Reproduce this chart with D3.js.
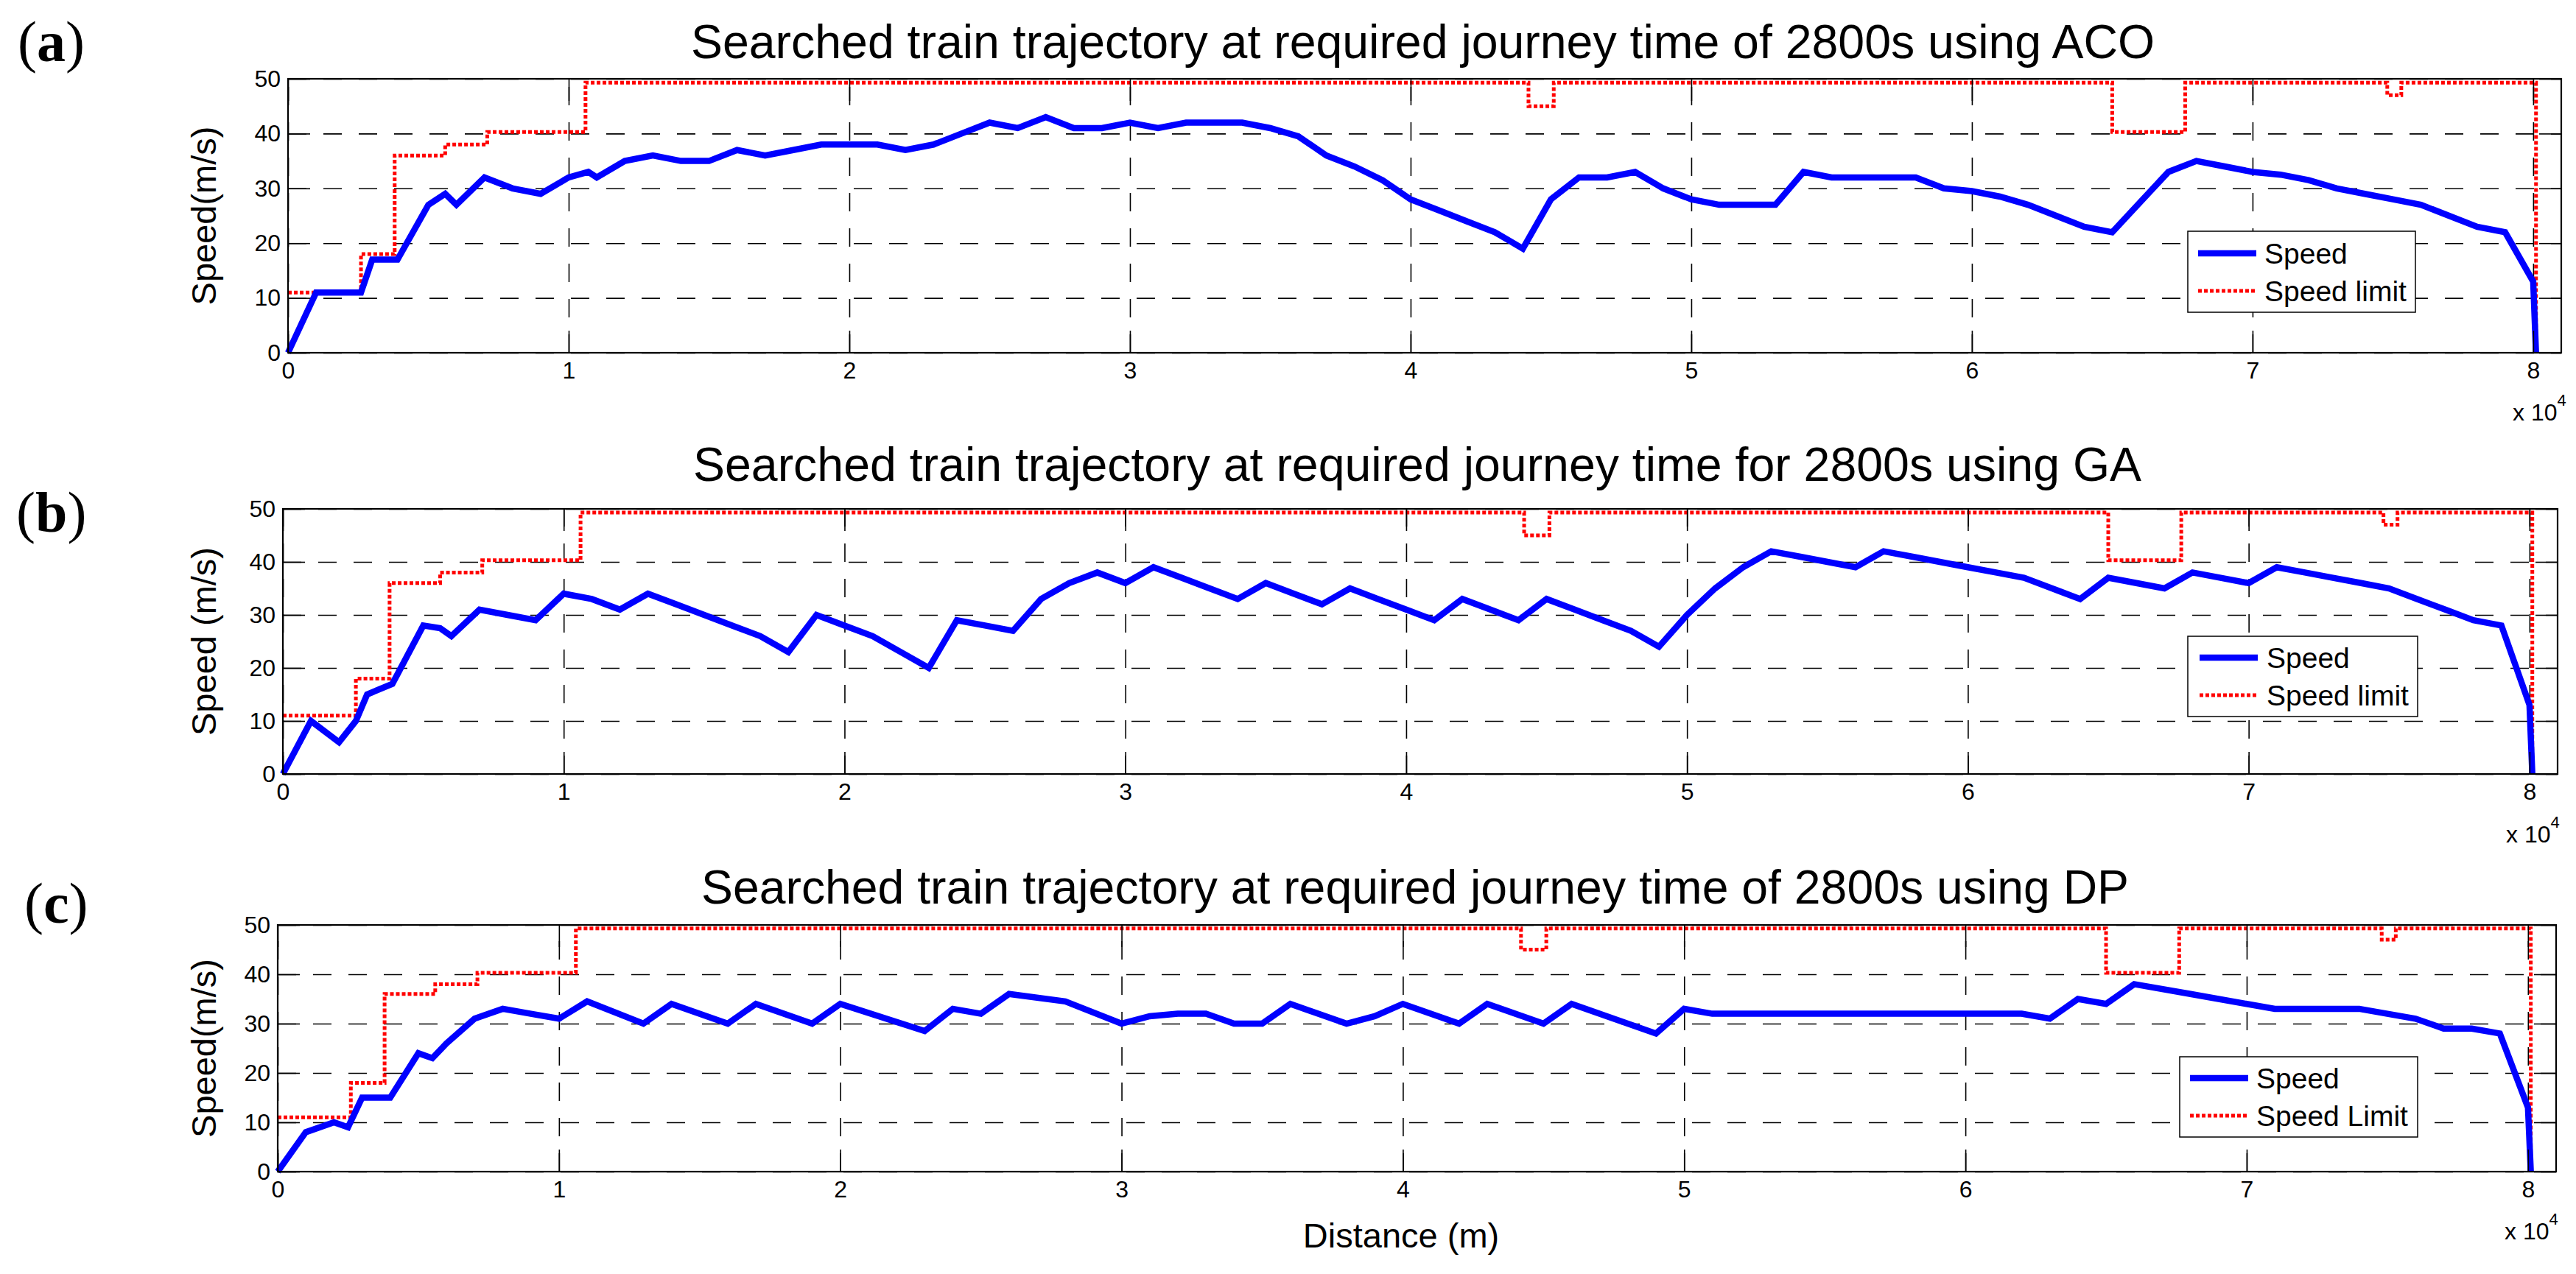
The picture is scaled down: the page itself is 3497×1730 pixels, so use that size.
<!DOCTYPE html>
<html>
<head>
<meta charset="utf-8">
<script src="https://cdn.jsdelivr.net/npm/d3@7"></script>
<style>
  html, body { margin: 0; padding: 0; background: #ffffff; }
  svg { display: block; }
  text { font-family: "Liberation Sans", Arial, Helvetica, sans-serif; fill: #000; }
</style>
</head>
<body>
<svg id="chart" width="3497" height="1730"></svg>
<script>
// ---------------- DATA ----------------
const xTicks = [0, 10000, 20000, 30000, 40000, 50000, 60000, 70000, 80000];
const xTickLabels = ["0", "1", "2", "3", "4", "5", "6", "7", "8"];
const yTicks = [0, 10, 20, 30, 40, 50];
const yTickLabels = ["0", "10", "20", "30", "40", "50"];

const panelLabels = ["a", "b", "c"];
const titles = [
  "Searched train trajectory at required journey time of 2800s using ACO",
  "Searched train trajectory at required journey time for 2800s using GA",
  "Searched train trajectory at required journey time of 2800s using DP"
];
const yLabels = ["Speed(m/s)", "Speed (m/s)", "Speed(m/s)"];
const legendSpeed = ["Speed", "Speed", "Speed"];
const legendLimit = ["Speed limit", "Speed limit", "Speed Limit"];
const xLabel = "Distance (m)";

// speed limit profile (step after each break point)
const limitDist  = [0, 2600, 3800, 5600, 7100, 10600, 44200, 45100, 65000, 67600, 74800, 75300, 80100];
const limitSpeed = [11, 18, 36, 38, 40.3, 49.3, 45, 49.3, 40.3, 49.3, 47, 49.3, 0];

// (a) ACO
const distA = [0, 1000, 2600, 3000, 3900, 5000, 5600, 6000, 7000, 8000,
  9000, 10000, 10700, 11000, 12000, 13000, 14000, 15000, 16000, 17000,
  18000, 19000, 20000, 21000, 22000, 23000, 24000, 25000, 26000, 27000,
  28000, 29000, 30000, 31000, 32000, 34000, 35000, 36000, 37000, 38000,
  39000, 40000, 41000, 42000, 43000, 44000, 45000, 46000, 47000, 48000,
  49000, 50000, 51000, 53000, 54000, 55000, 58000, 59000, 60000, 61000,
  62000, 63000, 64000, 65000, 66000, 67000, 68000, 69000, 70000, 71000,
  72000, 73000, 74000, 75000, 76000, 77000, 78000, 79000, 80000, 80100];
const speedA = [0, 11, 11, 17, 17, 27, 29, 27, 32, 30,
  29, 32, 33, 32, 35, 36, 35, 35, 37, 36,
  37, 38, 38, 38, 37, 38, 40, 42, 41, 43,
  41, 41, 42, 41, 42, 42, 41, 39.5, 36, 34,
  31.5, 28, 26, 24, 22, 19, 28, 32, 32, 33,
  30, 28, 27, 27, 33, 32, 32, 30, 29.5, 28.5,
  27, 25, 23, 22, 27.5, 33, 35, 34, 33, 32.5,
  31.5, 30, 29, 28, 27, 25, 23, 22, 13, 0];

// (b) GA
const distB = [0, 1000, 2000, 2600, 3000, 3900, 5000, 5600, 6000, 7000,
  8000, 9000, 10000, 11000, 12000, 13000, 14000, 15000, 16000, 17000,
  18000, 19000, 20000, 21000, 22000, 23000, 24000, 25000, 26000, 27000,
  28000, 29000, 30000, 31000, 32000, 33000, 34000, 35000, 36000, 37000,
  38000, 39000, 40000, 41000, 42000, 43000, 44000, 45000, 46000, 47000,
  48000, 49000, 50000, 51000, 52000, 53000, 54000, 55000, 56000, 57000,
  58000, 59000, 60000, 61000, 62000, 63000, 64000, 65000, 66000, 67000,
  68000, 69000, 70000, 71000, 72000, 73000, 74000, 75000, 76000, 77000,
  78000, 79000, 80000, 80100];
const speedB = [0, 10, 6, 10, 15, 17, 28, 27.5, 26, 31,
  30, 29, 34, 33, 31, 34, 32, 30, 28, 26,
  23, 30, 28, 26, 23, 20, 29, 28, 27, 33,
  36, 38, 36, 39, 37, 35, 33, 36, 34, 32,
  35, 33, 31, 29, 33, 31, 29, 33, 31, 29,
  27, 24, 30, 35, 39, 42, 41, 40, 39, 42,
  41, 40, 39, 38, 37, 35, 33, 37, 36, 35,
  38, 37, 36, 39, 38, 37, 36, 35, 33, 31,
  29, 28, 13, 0];

// (c) DP
const distC = [0, 1000, 2000, 2500, 3000, 4000, 5000, 5500, 6000, 7000,
  8000, 9000, 10000, 11000, 13000, 14000, 16000, 17000, 19000, 20000,
  23000, 24000, 25000, 26000, 28000, 30000, 31000, 32000, 33000, 34000,
  35000, 36000, 38000, 39000, 40000, 42000, 43000, 45000, 46000, 49000,
  50000, 51000, 62000, 63000, 64000, 65000, 66000, 68000, 70000, 71000,
  74000, 75000, 76000, 77000, 78000, 79000, 80000, 80100];
const speedC = [0, 8, 10, 9, 15, 15, 24, 23, 26, 31,
  33, 32, 31, 34.5, 30, 34, 30, 34, 30, 34,
  28.5, 33, 32, 36, 34.5, 30, 31.5, 32, 32, 30,
  30, 34, 30, 31.5, 34, 30, 34, 30, 34, 28,
  33, 32, 32, 31, 35, 34, 38, 36, 34, 33,
  33, 32, 31, 29, 29, 28, 13, 0];

const distSeries = [distA, distB, distC];
const speedSeries = [speedA, speedB, speedC];

const xDomain = [0, 81000];
const yDomain = [0, 50];

// ---------------- LAYOUT ----------------
const layout = [
  { left: 391, right: 3477, top: 107, bottom: 479,
    lab: { x: 24, y: 83 }, title: { x: 938, y: 79, w: 1987 },
    leg: { x: 2970, y: 314, w: 309, h: 110, r1: 344, r2: 395, lx: 2984, tx: 3074 },
    exp: { x: 3411, y: 571 } },
  { left: 384, right: 3472, top: 691, bottom: 1051,
    lab: { x: 22, y: 722 }, title: { x: 941, y: 653, w: 1966 },
    leg: { x: 2970, y: 864, w: 312, h: 109, r1: 893, r2: 944, lx: 2986, tx: 3077 },
    exp: { x: 3402, y: 1144 } },
  { left: 377, right: 3470, top: 1256, bottom: 1591,
    lab: { x: 33, y: 1253 }, title: { x: 952, y: 1227, w: 1938 },
    leg: { x: 2959, y: 1435, w: 323, h: 109, r1: 1464, r2: 1515, lx: 2973, tx: 3063 },
    exp: { x: 3400, y: 1683 } }
];

const svg = d3.select("#chart");
svg.append("rect").attr("x", 0).attr("y", 0).attr("width", 3497).attr("height", 1730).attr("fill", "#fff");

const BLUE = "#0000ff", RED = "#ff0000";
const TICK_FONT = 32, LEG_FONT = 39, LABEL_FONT = 47, TITLE_FONT = 64;
const TICK_LEN = 30;
const BLUE_W = 8.5, RED_W = 5, RED_DASH = "5,3";

layout.forEach((L, i) => {
  const W = L.right - L.left, H = L.bottom - L.top;
  const x = d3.scaleLinear().domain(xDomain).range([L.left, L.right]);
  const y = d3.scaleLinear().domain(yDomain).range([L.bottom, L.top]);

  const g = svg.append("g");

  // grid
  const gx = g.append("g").attr("transform", `translate(0,${L.bottom})`)
    .call(d3.axisBottom(x).tickValues(xTicks).tickSize(-H).tickFormat(""));
  const gy = g.append("g").attr("transform", `translate(${L.left},0)`)
    .call(d3.axisLeft(y).tickValues(yTicks).tickSize(-W).tickFormat(""));
  [gx, gy].forEach(s => {
    s.select(".domain").remove();
    s.selectAll(".tick line").attr("stroke", "#000").attr("stroke-width", 1.6)
      .attr("stroke-dasharray", "25,23");
  });

  // speed limit
  const limitData = limitDist.map((d, k) => [d, limitSpeed[k]]);
  g.append("path").datum(limitData)
    .attr("fill", "none").attr("stroke", RED).attr("stroke-width", RED_W)
    .attr("stroke-dasharray", RED_DASH)
    .attr("d", d3.line().x(d => x(d[0])).y(d => y(d[1])).curve(d3.curveStepAfter));

  // speed
  const sData = distSeries[i].map((d, k) => [d, speedSeries[i][k]]);
  g.append("path").datum(sData)
    .attr("fill", "none").attr("stroke", BLUE).attr("stroke-width", BLUE_W)
    .attr("stroke-linejoin", "miter").attr("stroke-miterlimit", 2)
    .attr("d", d3.line().x(d => x(d[0])).y(d => y(d[1])));

  // axes with labels (ticks inward)
  const ax = g.append("g").attr("transform", `translate(0,${L.bottom})`)
    .call(d3.axisBottom(x).tickValues(xTicks).tickSizeInner(-TICK_LEN).tickSizeOuter(0)
      .tickPadding(12).tickFormat((d, k) => xTickLabels[k]));
  const ay = g.append("g").attr("transform", `translate(${L.left},0)`)
    .call(d3.axisLeft(y).tickValues(yTicks).tickSizeInner(-TICK_LEN).tickSizeOuter(0)
      .tickPadding(10).tickFormat((d, k) => yTickLabels[k]));
  const axT = g.append("g").attr("transform", `translate(0,${L.top})`)
    .call(d3.axisTop(x).tickValues(xTicks).tickSizeInner(-TICK_LEN).tickSizeOuter(0).tickFormat(""));
  const ayR = g.append("g").attr("transform", `translate(${L.right},0)`)
    .call(d3.axisRight(y).tickValues(yTicks).tickSizeInner(-TICK_LEN).tickSizeOuter(0).tickFormat(""));
  [ax, ay, axT, ayR].forEach(s => {
    s.select(".domain").remove();
    s.selectAll(".tick line").attr("stroke", "#000").attr("stroke-width", 1.6);
    s.selectAll(".tick text").attr("font-size", TICK_FONT)
      .attr("font-family", '"Liberation Sans", Arial, sans-serif').attr("fill", "#000");
  });

  // box
  g.append("rect").attr("x", L.left).attr("y", L.top).attr("width", W).attr("height", H)
    .attr("fill", "none").attr("stroke", "#000").attr("stroke-width", 2.2);

  // x 10^4
  const ex = g.append("text").attr("x", L.exp.x).attr("y", L.exp.y).attr("font-size", TICK_FONT);
  ex.append("tspan").text("x 10");
  ex.append("tspan").attr("font-size", 22).attr("dy", -20).text("4");

  // y label
  const yc = (L.top + L.bottom) / 2;
  g.append("text").attr("transform", `translate(276,${yc}) rotate(-90)`)
    .attr("text-anchor", "middle").attr("dominant-baseline", "central")
    .attr("font-size", LABEL_FONT).text(yLabels[i]);

  // title
  g.append("text").attr("x", L.title.x).attr("y", L.title.y)
    .attr("font-size", TITLE_FONT)
    .attr("textLength", L.title.w).attr("lengthAdjust", "spacingAndGlyphs")
    .text(titles[i]);

  // panel label
  const pl = g.append("text").attr("x", L.lab.x).attr("y", L.lab.y)
    .attr("font-size", 78).style("font-family", '"Liberation Serif", "Times New Roman", serif');
  pl.append("tspan").text("(");
  pl.append("tspan").attr("font-weight", "bold").text(panelLabels[i]);
  pl.append("tspan").text(")");

  // legend
  const lg = g.append("g");
  lg.append("rect").attr("x", L.leg.x).attr("y", L.leg.y).attr("width", L.leg.w).attr("height", L.leg.h)
    .attr("fill", "#fff").attr("stroke", "#000").attr("stroke-width", 1.5);
  lg.append("line").attr("x1", L.leg.lx).attr("x2", L.leg.lx + 79)
    .attr("y1", L.leg.r1).attr("y2", L.leg.r1).attr("stroke", BLUE).attr("stroke-width", BLUE_W);
  lg.append("line").attr("x1", L.leg.lx).attr("x2", L.leg.lx + 79)
    .attr("y1", L.leg.r2).attr("y2", L.leg.r2).attr("stroke", RED).attr("stroke-width", RED_W)
    .attr("stroke-dasharray", RED_DASH);
  lg.append("text").attr("x", L.leg.tx).attr("y", L.leg.r1 + 14).attr("font-size", LEG_FONT).text(legendSpeed[i]);
  lg.append("text").attr("x", L.leg.tx).attr("y", L.leg.r2 + 14).attr("font-size", LEG_FONT).text(legendLimit[i]);
});

// x axis label
svg.append("text").attr("x", 1902).attr("y", 1694).attr("text-anchor", "middle")
  .attr("font-size", LABEL_FONT).text(xLabel);
</script>
</body>
</html>
